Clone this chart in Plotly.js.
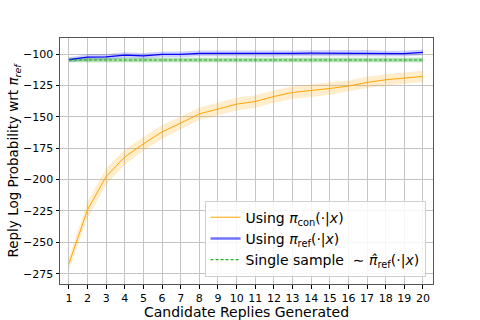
<!DOCTYPE html>
<html>
<head>
<meta charset="utf-8">
<script src="https://cdn.plot.ly/plotly-3.0.1.min.js"></script>
<style>
  html, body { margin: 0; padding: 0; background: #fff; }
  #plot { width: 480px; height: 320px; }
</style>
</head>
<body>
<div id="plot"></div>
<script>
// candidate replies generated (x)
const candidates = [1, 2, 3, 4, 5, 6, 7, 8, 9, 10, 11, 12, 13, 14, 15, 16, 17, 18, 19, 20];

// Using pi_con(.|x): mean and spread
const conMean = [-267, -224, -197.5, -182, -171.5, -162, -155, -147.6, -143.8, -139.9,
                 -137.8, -133.8, -130.6, -129.2, -127.4, -125.5, -122.6, -120.5, -119.1, -117.8];
const conStd = [5, 6.5, 6.5, 6, 5.5, 5.5, 5, 5, 5, 5, 5, 5, 5, 5, 5, 4.5, 4.5, 4.5, 4.5, 4.5];

// Using pi_ref(.|x): mean and spread
const refMean = [-104.5, -102.4, -102.3, -100.8, -101.5, -100.3, -100.2, -99.5, -99.5, -99.6,
                 -99.7, -99.8, -99.4, -99.3, -99.3, -99.3, -99.0, -99.6, -99.6, -98.6];
const refStd = [2, 2.3, 2.3, 2.3, 2.3, 2.3, 2.3, 2.3, 2.3, 2.3, 2.3, 2.3, 2.3, 2.3, 2.3, 2.3, 2.3, 2.3, 2.3, 2.3];

// single sample baseline
const singleMean = -104.7;
const singleStd = 1.8;

const yTicks = [-100, -125, -150, -175, -200, -225, -250, -275];

const font = 'DejaVu Sans, sans-serif';

const add = (a, b, s) => a.map((v, i) => v + s * b[i]);

const band = (x, lo, hi, color) => ({
    x: [...x, ...x.slice().reverse()],
    y: [...hi, ...lo.slice().reverse()],
    type: 'scatter',
    mode: 'lines',
    fill: 'toself',
    fillcolor: color,
    line: { width: 0 },
    showlegend: false,
    hoverinfo: 'skip'
});

const xEnds = [candidates[0], candidates[candidates.length - 1]];
const singleLine = xEnds.map(() => singleMean);

const traces = [
    band(candidates, add(conMean, conStd, -1), add(conMean, conStd, 1), 'rgba(255,165,0,0.2)'),
    band(candidates, add(refMean, refStd, -1), add(refMean, refStd, 1), 'rgba(0,0,255,0.18)'),
    band(xEnds, xEnds.map(() => singleMean - singleStd), xEnds.map(() => singleMean + singleStd), 'rgba(0,160,0,0.3)'),
    {
        x: candidates, y: conMean, type: 'scatter', mode: 'lines',
        line: { color: '#ffa500', width: 1 }, showlegend: false
    },
    {
        x: candidates, y: refMean, type: 'scatter', mode: 'lines',
        line: { color: '#0000ff', width: 1.2 }, showlegend: false
    },
    {
        x: xEnds, y: singleLine, type: 'scatter', mode: 'lines',
        line: { color: '#22a022', width: 1.1, dash: '3px,2px' }, showlegend: false
    },
    // legend entries
    {
        x: [null], y: [null], type: 'scatter', mode: 'lines',
        name: 'Using <i>π</i><sub>con</sub>(·|<i>x</i>)',
        line: { color: '#ffa500', width: 1 }
    },
    {
        x: [null], y: [null], type: 'scatter', mode: 'lines',
        name: 'Using <i>π</i><sub>ref</sub>(·|<i>x</i>)',
        line: { color: 'rgba(0,0,255,0.55)', width: 2.5 }
    },
    {
        x: [null], y: [null], type: 'scatter', mode: 'lines',
        name: 'Single sample  ∼ <i>π̂</i><sub>ref</sub>(·|<i>x</i>)',
        line: { color: '#22b022', width: 1.2, dash: '3px,2px' }
    }
];

const layout = {
    width: 480,
    height: 320,
    margin: { l: 60, r: 47, t: 38, b: 36 },
    paper_bgcolor: '#fff',
    plot_bgcolor: '#fff',
    font: { family: font, color: '#000', size: 11 },
    hovermode: false,
    xaxis: {
        range: [0.52, 20.54],
        tickvals: candidates,
        ticktext: candidates.map(String),
        ticks: 'outside', ticklen: 3.5, tickcolor: '#000',
        tickfont: { size: 11 },
        showgrid: true, gridcolor: '#c4c4c4', gridwidth: 1,
        showline: true, linecolor: '#555', linewidth: 1, mirror: true,
        zeroline: false,
        title: { text: 'Candidate Replies Generated', font: { size: 14 }, standoff: 2 }
    },
    yaxis: {
        range: [-283.2, -87.2],
        tickvals: yTicks,
        ticks: 'outside', ticklen: 3.5, tickcolor: '#000',
        tickfont: { size: 11 },
        showgrid: true, gridcolor: '#c4c4c4', gridwidth: 1,
        showline: true, linecolor: '#555', linewidth: 1, mirror: true,
        zeroline: false,
        title: { text: 'Reply Log Probability wrt <i>π</i><sub><i>ref</i></sub>', font: { size: 13.5 }, standoff: 0 }
    },
    legend: {
        x: 0.98, y: 0.03, xanchor: 'right', yanchor: 'bottom',
        bgcolor: 'rgba(255,255,255,0.85)',
        bordercolor: '#d0d0d0', borderwidth: 1,
        font: { size: 14 },
        tracegroupgap: 0,
        itemwidth: 30
    },
    showlegend: true
};

Plotly.newPlot('plot', traces, layout, { displayModeBar: false, staticPlot: true });
</script>
</body>
</html>
